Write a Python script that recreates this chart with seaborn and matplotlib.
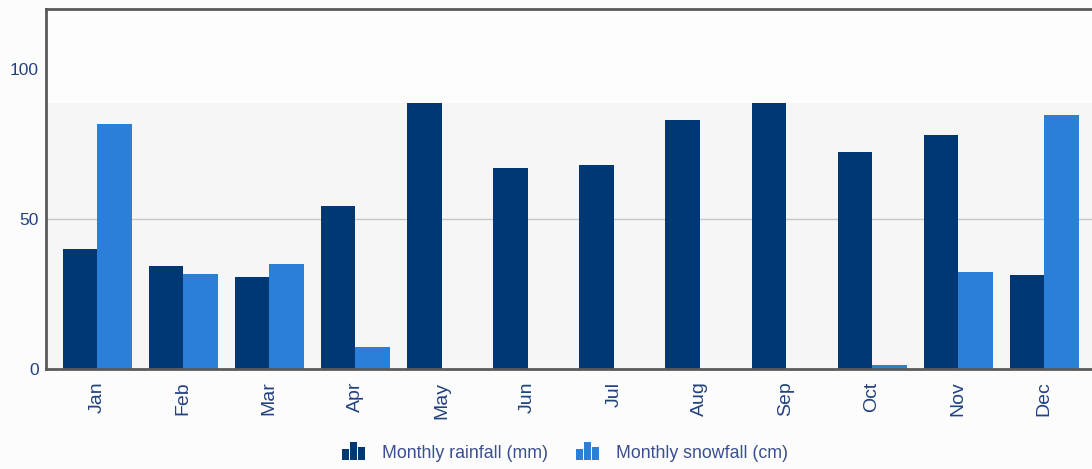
import pandas as pd
import matplotlib
matplotlib.use("Agg")
import matplotlib.pyplot as plt
import seaborn as sns
from matplotlib.patches import Rectangle, Patch
from matplotlib.legend_handler import HandlerBase

# monthly climate values
months = ['Jan', 'Feb', 'Mar', 'Apr', 'May', 'Jun', 'Jul', 'Aug', 'Sep', 'Oct', 'Nov', 'Dec']
rainfall = [40, 34.3, 30.8, 54.4, 88.8, 67, 68, 83, 88.8, 72.3, 78, 31.4]
snowfall = [81.5, 31.8, 35, 7.3, 0, 0, 0, 0, 0, 1.2, 32.4, 84.5]
series_names = ['Monthly rainfall (mm)', 'Monthly snowfall (cm)']
colors = ['#003775', '#2a80d8']

df = pd.DataFrame({
    'month': months * 2,
    'value': rainfall + snowfall,
    'series': [series_names[0]] * 12 + [series_names[1]] * 12,
})

sns.set_style('white')
plt.rcParams['font.family'] = ['Liberation Sans', 'DejaVu Sans']

fig = plt.figure(figsize=(10.92, 4.69), dpi=100, facecolor='#fcfcfc')
ax = fig.add_axes([46 / 1092, 100 / 469, 1050 / 1092, 360 / 469])
ax.set_facecolor('#fdfdfd')

# shaded band and grid line behind the bars
ax.axhspan(0, max(rainfall), color='#f6f6f6', zorder=0, lw=0)
ax.axhline(50, color='#c8c8c8', lw=1, zorder=0.5)

sns.barplot(data=df, x='month', y='value', hue='series', palette=colors,
            width=0.8, saturation=1, edgecolor='none', ax=ax, legend=False, zorder=2)

ax.set_ylim(0, 120)
ax.set_xlim(-0.593, 11.6)
ax.set_yticks([0, 50, 100])
ax.set_xlabel('')
ax.set_ylabel('')

label_color = '#22427f'
ax.tick_params(axis='y', length=0, pad=5, labelsize=12.5, labelcolor=label_color)
ax.tick_params(axis='x', length=0, pad=9, labelsize=14, labelcolor=label_color, rotation=90)

for side in ['left', 'top', 'bottom']:
    ax.spines[side].set_color('#5a5a5a')
    ax.spines[side].set_linewidth(2)
ax.spines['right'].set_visible(False)


class BarIcon(HandlerBase):
    # small three-bar glyph like the original legend marker
    def create_artists(self, legend, orig_handle, xdescent, ydescent,
                       width, height, fontsize, trans):
        c = orig_handle.get_facecolor()
        w = width / 3.3
        hs = [0.6, 1.0, 0.75]
        arts = []
        for i, h in enumerate(hs):
            r = Rectangle((-xdescent + i * w * 1.15, -ydescent - 2), w, (height + 4) * h,
                          facecolor=c, edgecolor='none', transform=trans)
            arts.append(r)
        return arts


handles = [Patch(facecolor=colors[0]), Patch(facecolor=colors[1])]
leg = fig.legend(handles, series_names, loc='center', bbox_to_anchor=(565 / 1092, 1 - 453 / 469),
                 ncol=2, frameon=False, fontsize=12.8, handler_map={Patch: BarIcon()},
                 handlelength=1.3, handletextpad=0.95, columnspacing=1.55)
for t in leg.get_texts():
    t.set_color('#3a4f8f')

fig.savefig('out.png', dpi=100, facecolor=fig.get_facecolor())
